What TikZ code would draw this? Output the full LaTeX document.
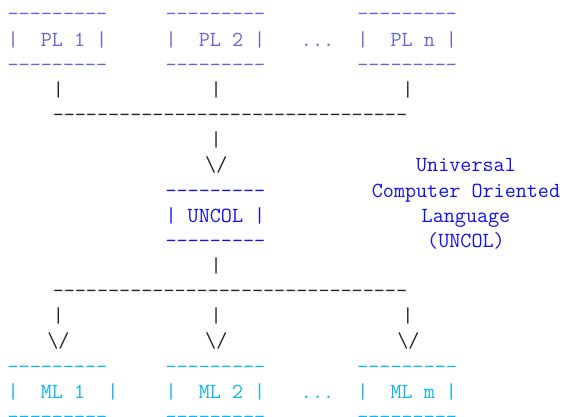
\documentclass[tikz,border=0pt]{standalone}
\usepackage{fontspec}
\setmonofont{Latin Modern Mono}
\definecolor{plc}{HTML}{6464DC}
\definecolor{unc}{HTML}{1010F0}
\definecolor{mlc}{HTML}{10B4F0}
\definecolor{conc}{HTML}{222222}
\newcommand\dashrow[1]{\count255=0 \loop\ifnum\count255<#1 -\kern0pt\advance\count255 by 1 \repeat}
% left-aligned text line at grid column / row
\newcommand\gridline[5][]{\node[asc,anchor=base west,#1] (#2) at ({(7.66+11.28*#3)*1pt},{-(21+25.15*#4)*1pt}) {#5};}
% text centred on x (px) at row
\newcommand\centline[5][]{\node[asc,anchor=base,#1] (#2) at ({#3*1pt},{-(21+25.15*#4)*1pt}) {#5};}
\tikzset{
  asc/.style={inner sep=0pt, outer sep=0pt, font=\ttfamily\fontsize{21.5pt}{25.2pt}\selectfont},
  pl/.style={text=plc},
  un/.style={text=unc},
  ml/.style={text=mlc},
  con/.style={text=conc},
}
\begin{document}
\begin{tikzpicture}
\useasboundingbox (0,0) rectangle (563pt,-417pt);
% --- PL boxes
\gridline[pl]{pl1a}{0}{0}{\dashrow{9}}
\gridline[pl]{pl2a}{14}{0}{\dashrow{9}}
\gridline[pl]{plna}{31}{0}{\dashrow{9}}
\gridline[pl]{pl1}{0}{1}{|\ \ PL\ 1\ |}
\gridline[pl]{pl2}{14}{1}{|\ \ PL\ 2\ |}
\gridline[pl]{pldots}{26}{1}{...}
\gridline[pl]{pln}{31}{1}{|\ \ PL\ n\ |}
\gridline[pl]{pl1b}{0}{2}{\dashrow{9}}
\gridline[pl]{pl2b}{14}{2}{\dashrow{9}}
\gridline[pl]{plnb}{31}{2}{\dashrow{9}}
% --- upper connectors
\gridline[con]{c1}{4}{3}{|}
\gridline[con]{c2}{18}{3}{|}
\gridline[con]{c3}{35}{3}{|}
\gridline[con]{bus1}{4}{4}{\dashrow{32}}
\gridline[con]{c4}{18}{5}{|}
\centline[con]{v0}{216.3}{6}{\textbackslash/}
% --- UNCOL box
\gridline[un]{una}{14}{7}{\dashrow{9}}
\gridline[un]{uncol}{14}{8}{|\ UNCOL\ |}
\gridline[un]{unb}{14}{9}{\dashrow{9}}
% --- description
\centline[un]{d1}{466}{6}{Universal}
\centline[un]{d2}{466}{7}{Computer\ Oriented}
\centline[un]{d3}{466}{8}{Language}
\centline[un]{d4}{466}{9}{(UNCOL)}
% --- lower connectors
\gridline[con]{c5}{18}{10}{|}
\gridline[con]{bus2}{4}{11}{\dashrow{32}}
\gridline[con]{c6}{4}{12}{|}
\gridline[con]{c7}{18}{12}{|}
\gridline[con]{c8}{35}{12}{|}
\centline[con]{v1}{58.4}{13}{\textbackslash/}
\centline[con]{v2}{216.3}{13}{\textbackslash/}
\centline[con]{v3}{408.4}{13}{\textbackslash/}
% --- ML boxes
\gridline[ml]{ml1a}{0}{14}{\dashrow{9}}
\gridline[ml]{ml2a}{14}{14}{\dashrow{9}}
\gridline[ml]{mlma}{31}{14}{\dashrow{9}}
\gridline[ml]{ml1}{0}{15}{|\ \ ML\ 1\ \ |}
\gridline[ml]{ml2}{14}{15}{|\ \ ML\ 2\ |}
\gridline[ml]{mldots}{26}{15}{...}
\gridline[ml]{mlm}{31}{15}{|\ \ ML\ m\ |}
\gridline[ml]{ml1b}{0}{16}{\dashrow{9}}
\gridline[ml]{ml2b}{14}{16}{\dashrow{9}}
\gridline[ml]{mlmb}{31}{16}{\dashrow{9}}
\end{tikzpicture}
\end{document}
